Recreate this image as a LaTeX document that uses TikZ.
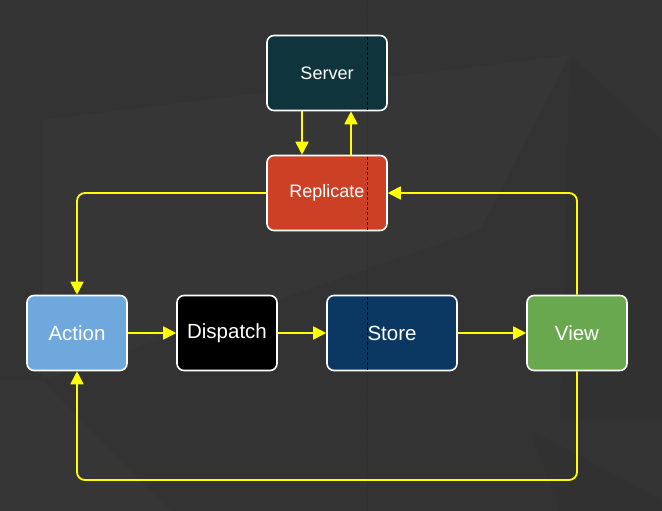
\documentclass[tikz,border=0pt]{standalone}
\usepackage{fontspec}
\setmainfont{Liberation Sans}
\usetikzlibrary{arrows.meta}
\definecolor{bg}{HTML}{333333}
\definecolor{bglight}{HTML}{363636}
\definecolor{bgdark}{HTML}{313131}
\definecolor{servercol}{HTML}{10343C}
\definecolor{replcol}{HTML}{CC4125}
\definecolor{actcol}{HTML}{6FA8DC}
\definecolor{storecol}{HTML}{0B3862}
\definecolor{viewcol}{HTML}{6AA84F}
\definecolor{linkcol}{HTML}{FFFF00}
\begin{document}
\begin{tikzpicture}[x=1pt,y=-1pt,
  box/.style={draw=white,line width=1.6pt,rounded corners=7pt,minimum width=100pt,minimum height=75pt,text=white,inner sep=0pt,font=\fontsize{20.5}{21}\selectfont},
  smallbox/.style={box,minimum width=120pt,font=\fontsize{18}{19}\selectfont},
  link/.style={draw=linkcol,line width=1.8pt,rounded corners=8pt,-{Triangle[width=13pt,length=13pt]}},
  pagebreak/.style={black,line width=0.7pt,dash pattern=on 3pt off 2pt}]
\useasboundingbox (0,0) rectangle (662,511);
\fill[bg] (0,0) rectangle (662,511);
% subtle background facets
\fill[bglight] (42,120) -- (570,55) -- (480,230) -- (42,380) -- cycle;
\fill[bgdark] (570,55) -- (662,140) -- (662,420) -- (560,420) -- cycle;
\fill[bglight] (0,380) -- (42,380) -- (170,511) -- (0,511) -- cycle;
\fill[bgdark] (530,430) -- (662,500) -- (662,511) -- (560,511) -- cycle;
\draw[black,opacity=0.08,line width=0.6pt,dash pattern=on 3pt off 2pt] (367,0) -- (367,511);

\node[smallbox,fill=servercol] (server) at (327,73) {Server};
\node[smallbox,fill=replcol] (repl) at (327,193) {Replicate};
\node[box,fill=actcol] (action) at (77,333) {Action};
\node[box,fill=black] (dispatch) at (227,333) {Dispatch};
\node[box,minimum width=130pt,fill=storecol] (store) at (392,333) {Store};
\node[box,fill=viewcol] (view) at (577,333) {View};

\draw[pagebreak] (367,37) -- (367,110);
\draw[pagebreak] (367,157) -- (367,231);
\draw[pagebreak] (367,297) -- (367,371);

\coordinate (bot) at (327,480);

\draw[link] ([xshift=-25pt]server.south) -- ([xshift=-25pt]repl.north);
\draw[link] ([xshift=24pt]repl.north) -- ([xshift=24pt]server.south);
\draw[link] (repl.west) -| (action.north);
\draw[link] (view.north) |- (repl.east);
\draw[link] (action.east) -- (dispatch.west);
\draw[link] (dispatch.east) -- (store.west);
\draw[link] (store.east) -- (view.west);
\draw[link] (view.south) |- (bot) -| (action.south);
\end{tikzpicture}
\end{document}
